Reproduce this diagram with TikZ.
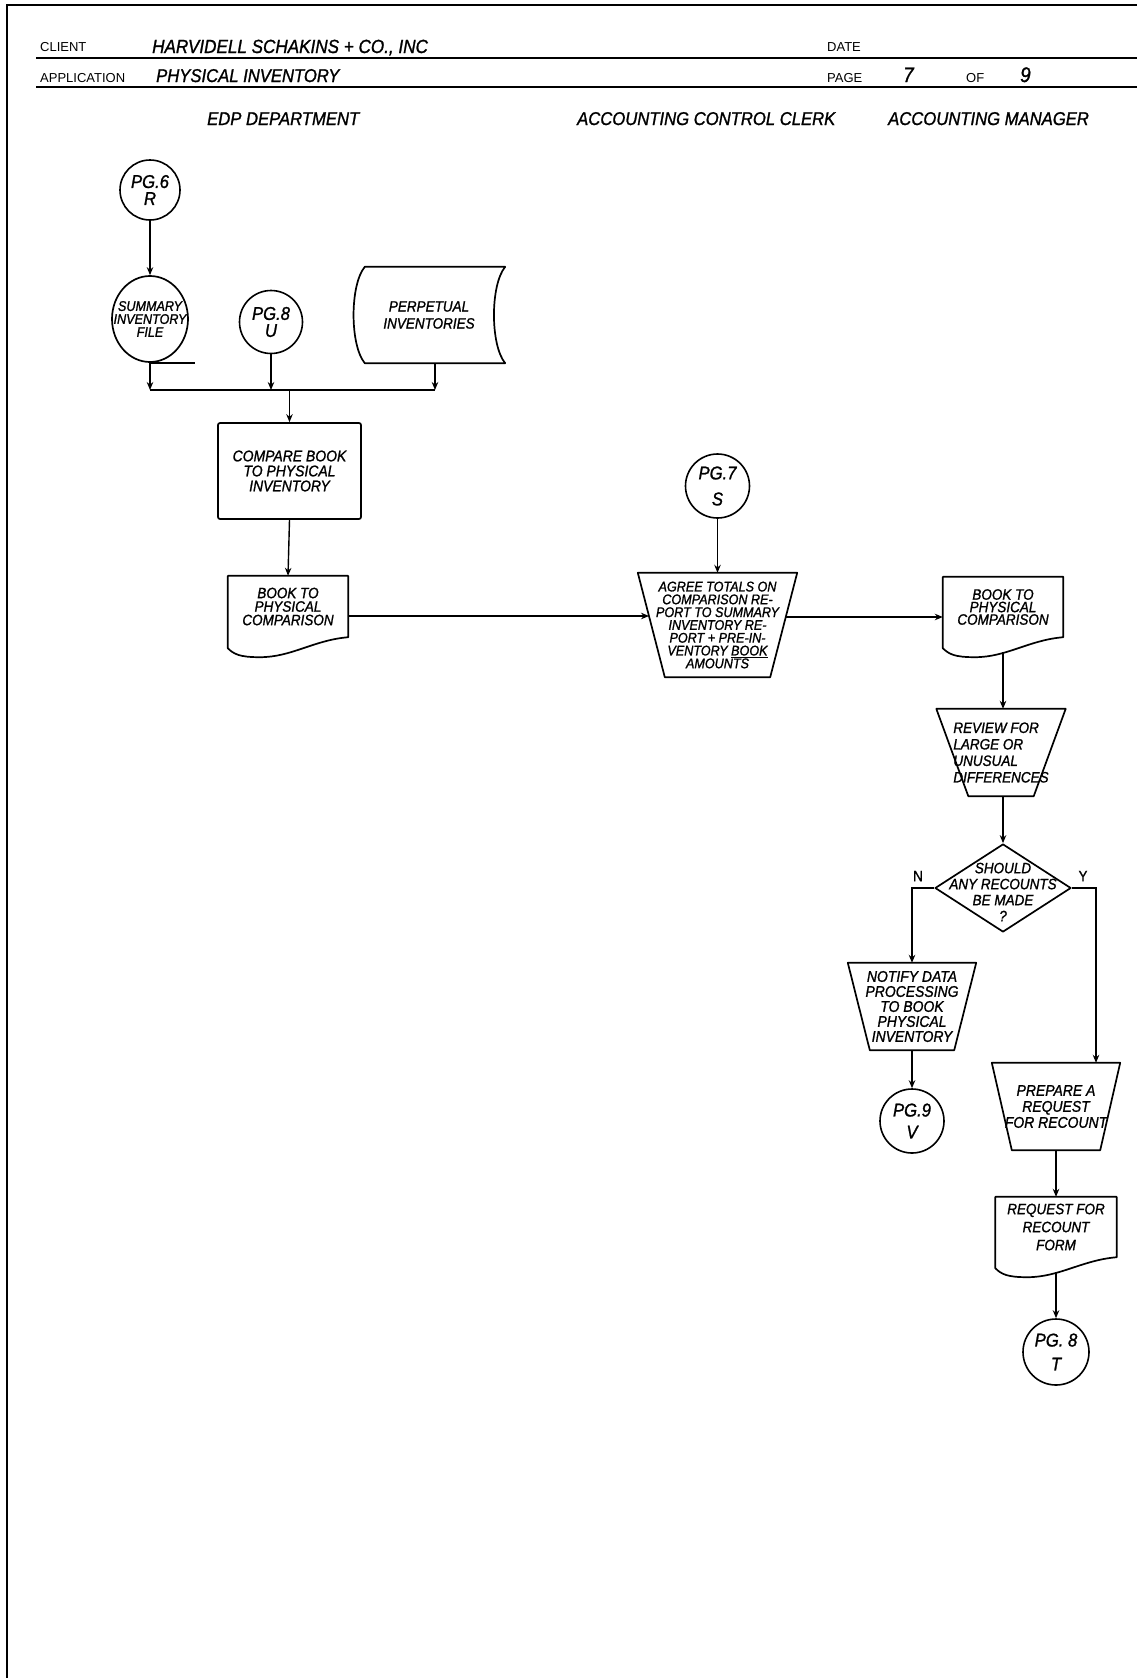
\documentclass[tikz,border=0pt]{standalone}
\usepackage{fontspec}
\setmainfont{Liberation Sans}
\newfontfamily\printfont{Liberation Sans}
\newfontfamily\handfont[FakeStretch=0.9,FakeBold=1.2]{Liberation Sans}
\usetikzlibrary{arrows.meta,calc,shapes.geometric}

\tikzset{
  shapeline/.style={line width=1.7pt, line join=round},
  formline/.style={line width=1.3pt},
  flowline/.style={line width=1.4pt},
  arr/.style={line width=1.4pt, -{Stealth[length=8pt,width=6.5pt]}},
  hw/.style n args={2}{font=\handfont\itshape\fontsize{#1}{#2}\selectfont, align=center, inner sep=0pt},
  printlbl/.style={font=\printfont\fontsize{13}{15}\selectfont, inner sep=0pt, anchor=base west},
  handlbl/.style={font=\handfont\itshape\fontsize{#1}{#1}\selectfont, inner sep=0pt, anchor=base west},
  branchlbl/.style={font=\handfont\fontsize{15}{15}\selectfont, inner sep=0pt},
  connector/.style={circle, draw, line width=1.6pt, inner sep=0pt, minimum size=#1},
  procbox/.style={draw, line width=1.7pt, rounded corners=2pt, inner sep=0pt},
  plain/.style={inner sep=0pt},
}

% document symbol: straight top and sides, wavy bottom edge
\newcommand{\docoutline}[1]{%
  \draw[shapeline] (#1.south east) -- (#1.north east) -- (#1.north west) -- ($(#1.south west)+(0,11)$)
    .. controls +(6,6) and +(-20,0) .. ($(#1.south west)+(32,20)$)
    .. controls +(32,0) and +(-35,3) .. (#1.south east) -- cycle;}

% manual operation: trapezoid, wide at the top
\newcommand{\manualop}[2]{%
  \draw[shapeline] (#1.north west) -- (#1.north east) -- ([xshift=-#2pt]#1.south east)
    -- ([xshift=#2pt]#1.south west) -- cycle;}

\begin{document}
\begin{tikzpicture}[x=1pt,y=-1pt]
  \fill[white] (0,0) rectangle (1137,1678);
  \path[use as bounding box] (0,0) rectangle (1137,1678);

  % sheet border and form lines
  \draw[line width=2pt] (7,1678) -- (7,5) -- (1137,5);
  \draw[formline] (36,58) -- (1137,58);
  \draw[formline] (36,87) -- (1137,87);

  % form header
  \node[printlbl] (lclient) at (40,52) {CLIENT};
  \node[handlbl=19] (vclient) at (152,53) {HARVIDELL SCHAKINS + CO., INC};
  \node[printlbl] (ldate) at (827,52) {DATE};
  \node[printlbl] (lapp) at (40,82) {APPLICATION};
  \node[handlbl=18.5] (vapp) at (156,82) {PHYSICAL INVENTORY};
  \node[printlbl] (lpage) at (827,82) {PAGE};
  \node[handlbl=21] (vpage) at (903,82) {7};
  \node[printlbl] (lof) at (966,82) {OF};
  \node[handlbl=21] (vof) at (1020,82) {9};

  % column headings
  \node[handlbl=18.5] (hedp) at (207,125) {EDP DEPARTMENT};
  \node[handlbl=18.5] (hacc) at (577,125) {ACCOUNTING CONTROL CLERK};
  \node[handlbl=18.5] (hmgr) at (888,125) {ACCOUNTING MANAGER};

  % ---- EDP department ----
  \node[connector=60pt, hw={18.5}{17}] (pg6) at (150,190) {PG.6\\R};
  \node[ellipse, draw, shapeline, minimum width=76pt, minimum height=86pt, inner sep=0pt] (sumf) at (150,319) {};
  \node[hw={14}{13}] (sumftxt) at (sumf) {SUMMARY\\INVENTORY\\FILE};
  \draw[shapeline] (sumf.south) -- ++(45,0);
  \node[connector=63pt, hw={18.5}{17}] (pg8u) at (271,322) {PG.8\\U};
  \node[plain, minimum width=152pt, minimum height=96pt, hw={15}{17}] (perp) at (429,315) {PERPETUAL\\INVENTORIES};
  \draw[shapeline] ($(perp.north west)+(12,0)$) -- (perp.north east)
    .. controls +(-15,18) and +(-15,-18) .. (perp.south east)
    -- ($(perp.south west)+(12,0)$)
    .. controls +(-15,-18) and +(-15,18) .. ($(perp.north west)+(12,0)$) -- cycle;

  \coordinate (busL) at (150,390);
  \coordinate (busR) at (435,390);
  \coordinate (perpOut) at ($(perp.south)+(6,0)$);

  \node[procbox, minimum width=143pt, minimum height=96pt, hw={15.5}{15}] (cmp) at (289.5,471) {COMPARE BOOK\\TO PHYSICAL\\INVENTORY};
  \node[plain, minimum width=120pt, minimum height=61pt, hw={15}{13.5}] (bookL) at (288,606.5) {BOOK TO\\PHYSICAL\\COMPARISON};
  \docoutline{bookL}

  \draw[arr] (pg6.south) -- (sumf.north);
  \draw[arr] (sumf.south) -- (sumf.south |- busL);
  \draw[arr] (pg8u.south) -- (pg8u.south |- busL);
  \draw[arr] (perpOut) -- (perpOut |- busL);
  \draw[flowline] (busL) -- (busR);
  \draw[arr] (cmp.north |- busL) -- (cmp.north);
  \draw[arr] (cmp.south) -- (bookL.north);

  % ---- accounting control clerk ----
  \node[connector=64pt, hw={18.5}{26}] (pg7) at (717.5,486) {PG.7\\S};
  \node[plain, minimum width=159pt, minimum height=104pt, hw={14}{12.8}] (agree) at (717.5,625)
    {AGREE TOTALS ON\\COMPARISON RE-\\PORT TO SUMMARY\\INVENTORY RE-\\PORT + PRE-IN-\\VENTORY \underline{BOOK}\\AMOUNTS};
  \manualop{agree}{27}
  \coordinate (agreeIn) at (649,616);
  \coordinate (agreeOut) at (786,617);
  \draw[arr] (bookL.east |- agreeIn) -- (agreeIn);
  \draw[arr] (pg7.south) -- (agree.north);

  % ---- accounting manager ----
  \node[plain, minimum width=120pt, minimum height=60pt, hw={15}{12.5}] (bookR) at (1003,607) {BOOK TO\\PHYSICAL\\COMPARISON};
  \docoutline{bookR}
  \draw[arr] (agreeOut) -- (agreeOut -| bookR.west);

  \node[plain, minimum width=129pt, minimum height=87pt, hw={15}{16.5}, align=left] (review) at (1001,752.5) {REVIEW FOR\\LARGE OR\\UNUSUAL\\DIFFERENCES};
  \manualop{review}{32}
  \draw[arr] ($(bookR.south)+(0,15)$) -- (bookR.south |- review.north);

  \node[diamond, draw, shapeline, minimum width=136pt, minimum height=88pt, inner sep=0pt] (dec) at (1003,888) {};
  \node[hw={15}{16}] (dectxt) at (1003,892) {SHOULD\\ANY RECOUNTS\\BE MADE\\?};
  \node[branchlbl] (lblN) at (918,876) {N};
  \node[branchlbl] (lblY) at (1083,876) {Y};
  \draw[arr] (review.south -| dec.north) -- (dec.north);

  \node[plain, minimum width=128pt, minimum height=87pt, hw={15.5}{15}] (notify) at (912,1006.5) {NOTIFY DATA\\PROCESSING\\TO BOOK\\PHYSICAL\\INVENTORY};
  \manualop{notify}{22}
  \node[connector=64pt, hw={18.5}{22}] (pg9) at (912,1121) {PG.9\\V};

  \node[plain, minimum width=128pt, minimum height=87pt, hw={15.5}{16}] (prep) at (1056,1106.5) {PREPARE A\\REQUEST\\FOR RECOUNT};
  \manualop{prep}{20}
  \node[plain, minimum width=121pt, minimum height=60pt, hw={15}{18}] (reqf) at (1056,1227) {REQUEST FOR\\RECOUNT\\FORM};
  \docoutline{reqf}
  \node[connector=66pt, hw={18.5}{24}] (pg8t) at (1056,1352) {PG. 8\\T};

  \draw[arr] (dec.west) -| (notify.north);
  \draw[arr] (dec.east) -| ([xshift=40pt]prep.north);
  \draw[arr] (notify.south) -- (pg9.north);
  \draw[arr] (prep.south) -- (reqf.north);
  \draw[arr] ($(reqf.south)+(0,15)$) -- (pg8t.north);
\end{tikzpicture}
\end{document}
